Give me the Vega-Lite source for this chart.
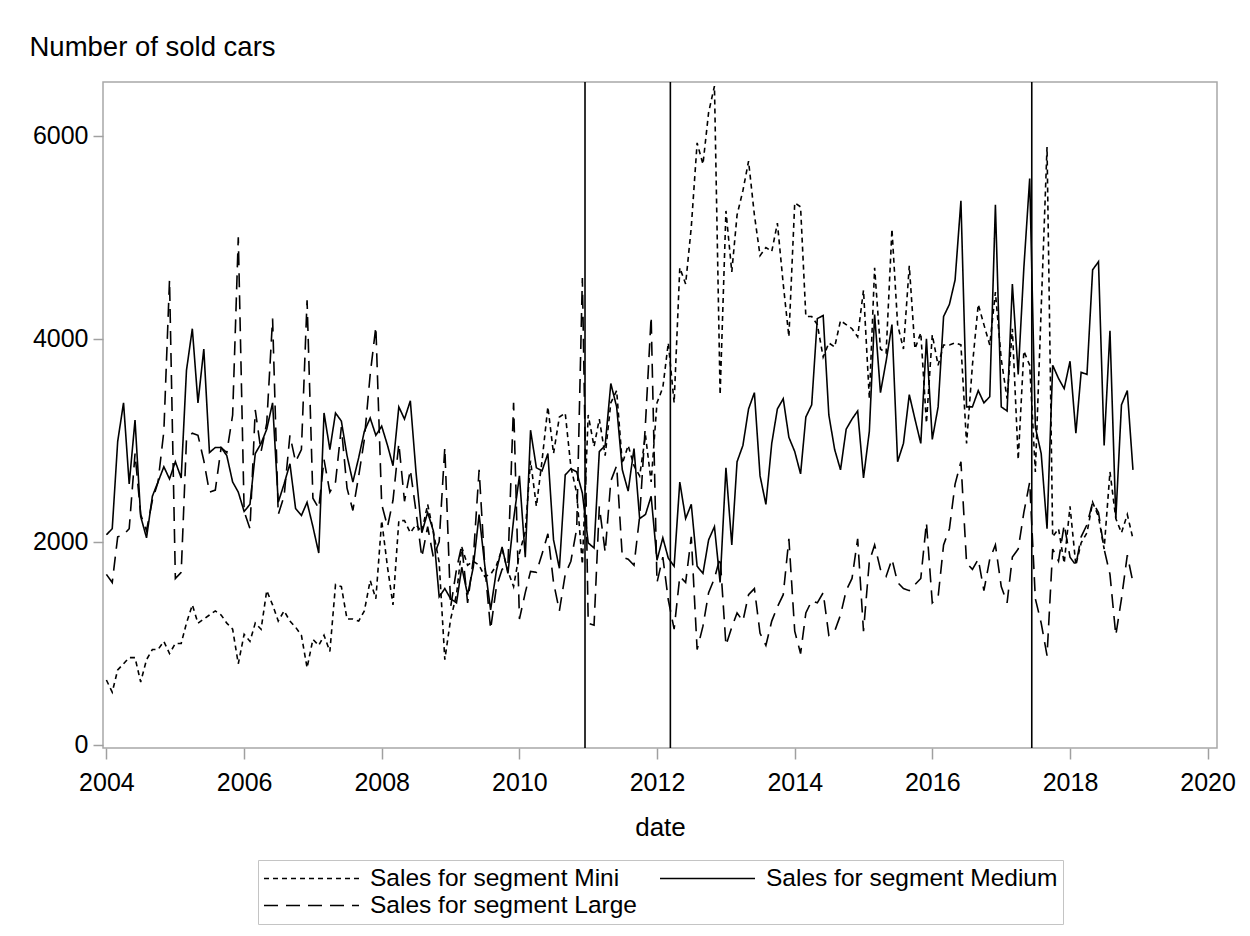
{
  "$schema": "https://vega.github.io/schema/vega-lite/v6.json",
  "width": 1114,
  "height": 666,
  "autosize": {"type": "none"},
  "padding": {"left": 103, "top": 82, "right": 33, "bottom": 188},
  "background": "white",
  "config": {
    "font": "Liberation Sans",
    "view": {"stroke": "#a8a8a8", "strokeWidth": 1.5},
    "axis": {"grid": false, "domain": false, "tickColor": "#a0a0a0", "tickWidth": 1.5, "labelColor": "black", "titleColor": "black", "titleFontWeight": "normal"}
  },
  "layer": [
    {
      "data": {"values": [
        {"date":"2004-01-01","Mini":640,"Medium":2070,"Large":1680},
        {"date":"2004-02-01","Mini":520,"Medium":2130,"Large":1600},
        {"date":"2004-03-01","Mini":740,"Medium":2990,"Large":2050},
        {"date":"2004-04-01","Mini":800,"Medium":3370,"Large":2070},
        {"date":"2004-05-01","Mini":860,"Medium":2570,"Large":2130},
        {"date":"2004-06-01","Mini":860,"Medium":3200,"Large":2870},
        {"date":"2004-07-01","Mini":620,"Medium":2250,"Large":2270},
        {"date":"2004-08-01","Mini":840,"Medium":2040,"Large":2110},
        {"date":"2004-09-01","Mini":940,"Medium":2450,"Large":2410},
        {"date":"2004-10-01","Mini":940,"Medium":2590,"Large":2590},
        {"date":"2004-11-01","Mini":1020,"Medium":2740,"Large":3090},
        {"date":"2004-12-01","Mini":900,"Medium":2620,"Large":4580},
        {"date":"2005-01-01","Mini":1000,"Medium":2790,"Large":1640},
        {"date":"2005-02-01","Mini":1000,"Medium":2630,"Large":1700},
        {"date":"2005-03-01","Mini":1200,"Medium":3690,"Large":3010},
        {"date":"2005-04-01","Mini":1380,"Medium":4100,"Large":3070},
        {"date":"2005-05-01","Mini":1200,"Medium":3370,"Large":3050},
        {"date":"2005-06-01","Mini":1240,"Medium":3900,"Large":2800},
        {"date":"2005-07-01","Mini":1280,"Medium":2880,"Large":2490},
        {"date":"2005-08-01","Mini":1320,"Medium":2930,"Large":2510},
        {"date":"2005-09-01","Mini":1280,"Medium":2930,"Large":2930},
        {"date":"2005-10-01","Mini":1200,"Medium":2850,"Large":2880},
        {"date":"2005-11-01","Mini":1140,"Medium":2590,"Large":3250},
        {"date":"2005-12-01","Mini":800,"Medium":2490,"Large":5000},
        {"date":"2006-01-01","Mini":1090,"Medium":2300,"Large":2300},
        {"date":"2006-02-01","Mini":1020,"Medium":2370,"Large":2130},
        {"date":"2006-03-01","Mini":1200,"Medium":2870,"Large":3300},
        {"date":"2006-04-01","Mini":1140,"Medium":2970,"Large":2890},
        {"date":"2006-05-01","Mini":1520,"Medium":3110,"Large":3170},
        {"date":"2006-06-01","Mini":1380,"Medium":3370,"Large":4200},
        {"date":"2006-07-01","Mini":1220,"Medium":2390,"Large":2270},
        {"date":"2006-08-01","Mini":1320,"Medium":2570,"Large":2450},
        {"date":"2006-09-01","Mini":1220,"Medium":2770,"Large":3050},
        {"date":"2006-10-01","Mini":1160,"Medium":2330,"Large":2790},
        {"date":"2006-11-01","Mini":1080,"Medium":2260,"Large":2910},
        {"date":"2006-12-01","Mini":760,"Medium":2390,"Large":4380},
        {"date":"2007-01-01","Mini":1040,"Medium":2150,"Large":2430},
        {"date":"2007-02-01","Mini":980,"Medium":1890,"Large":2330},
        {"date":"2007-03-01","Mini":1080,"Medium":3270,"Large":2810},
        {"date":"2007-04-01","Mini":920,"Medium":2910,"Large":2490},
        {"date":"2007-05-01","Mini":1580,"Medium":3270,"Large":2590},
        {"date":"2007-06-01","Mini":1560,"Medium":3190,"Large":3130},
        {"date":"2007-07-01","Mini":1240,"Medium":2850,"Large":2530},
        {"date":"2007-08-01","Mini":1240,"Medium":2590,"Large":2310},
        {"date":"2007-09-01","Mini":1220,"Medium":2830,"Large":2650},
        {"date":"2007-10-01","Mini":1320,"Medium":3090,"Large":3010},
        {"date":"2007-11-01","Mini":1620,"Medium":3220,"Large":3650},
        {"date":"2007-12-01","Mini":1440,"Medium":3050,"Large":4120},
        {"date":"2008-01-01","Mini":2210,"Medium":3140,"Large":2370},
        {"date":"2008-02-01","Mini":1750,"Medium":2950,"Large":2150},
        {"date":"2008-03-01","Mini":1380,"Medium":2750,"Large":2410},
        {"date":"2008-04-01","Mini":2210,"Medium":3330,"Large":2970},
        {"date":"2008-05-01","Mini":2210,"Medium":3210,"Large":2400},
        {"date":"2008-06-01","Mini":2090,"Medium":3390,"Large":2710},
        {"date":"2008-07-01","Mini":2170,"Medium":2690,"Large":2300},
        {"date":"2008-08-01","Mini":2100,"Medium":2090,"Large":1850},
        {"date":"2008-09-01","Mini":2370,"Medium":2290,"Large":2150},
        {"date":"2008-10-01","Mini":2100,"Medium":2110,"Large":1850},
        {"date":"2008-11-01","Mini":1800,"Medium":1460,"Large":2000},
        {"date":"2008-12-01","Mini":840,"Medium":1540,"Large":2930},
        {"date":"2009-01-01","Mini":1240,"Medium":1440,"Large":1360},
        {"date":"2009-02-01","Mini":1480,"Medium":1400,"Large":1730},
        {"date":"2009-03-01","Mini":1950,"Medium":1750,"Large":1970},
        {"date":"2009-04-01","Mini":1770,"Medium":1480,"Large":1400},
        {"date":"2009-05-01","Mini":1810,"Medium":1750,"Large":1830},
        {"date":"2009-06-01","Mini":1770,"Medium":2270,"Large":2710},
        {"date":"2009-07-01","Mini":1660,"Medium":1770,"Large":1770},
        {"date":"2009-08-01","Mini":1680,"Medium":1330,"Large":1140},
        {"date":"2009-09-01","Mini":1770,"Medium":1720,"Large":1560},
        {"date":"2009-10-01","Mini":1930,"Medium":1950,"Large":1730},
        {"date":"2009-11-01","Mini":1710,"Medium":1690,"Large":1770},
        {"date":"2009-12-01","Mini":1560,"Medium":2220,"Large":3370},
        {"date":"2010-01-01","Mini":1890,"Medium":2650,"Large":1240},
        {"date":"2010-02-01","Mini":2100,"Medium":1850,"Large":1500},
        {"date":"2010-03-01","Mini":2800,"Medium":3100,"Large":1710},
        {"date":"2010-04-01","Mini":2350,"Medium":2730,"Large":1700},
        {"date":"2010-05-01","Mini":2800,"Medium":2700,"Large":1880},
        {"date":"2010-06-01","Mini":3330,"Medium":2870,"Large":2080},
        {"date":"2010-07-01","Mini":2870,"Medium":2020,"Large":1600},
        {"date":"2010-08-01","Mini":3230,"Medium":1740,"Large":1320},
        {"date":"2010-09-01","Mini":3270,"Medium":2660,"Large":1680},
        {"date":"2010-10-01","Mini":2740,"Medium":2720,"Large":1810},
        {"date":"2010-11-01","Mini":2480,"Medium":2690,"Large":2130},
        {"date":"2010-12-01","Mini":1780,"Medium":2480,"Large":4600},
        {"date":"2011-01-01","Mini":3250,"Medium":1990,"Large":1200},
        {"date":"2011-02-01","Mini":2940,"Medium":1940,"Large":1180},
        {"date":"2011-03-01","Mini":3210,"Medium":2890,"Large":2350},
        {"date":"2011-04-01","Mini":2850,"Medium":2950,"Large":1900},
        {"date":"2011-05-01","Mini":3370,"Medium":3560,"Large":2600},
        {"date":"2011-06-01","Mini":3490,"Medium":3330,"Large":2750},
        {"date":"2011-07-01","Mini":2770,"Medium":2710,"Large":1850},
        {"date":"2011-08-01","Mini":2950,"Medium":2500,"Large":1830},
        {"date":"2011-09-01","Mini":2750,"Medium":2920,"Large":1770},
        {"date":"2011-10-01","Mini":2650,"Medium":2230,"Large":2250},
        {"date":"2011-11-01","Mini":3050,"Medium":2270,"Large":3170},
        {"date":"2011-12-01","Mini":2590,"Medium":2450,"Large":4220},
        {"date":"2012-01-01","Mini":3370,"Medium":1820,"Large":1600},
        {"date":"2012-02-01","Mini":3520,"Medium":2040,"Large":1850},
        {"date":"2012-03-01","Mini":3960,"Medium":1840,"Large":1430},
        {"date":"2012-04-01","Mini":3370,"Medium":1760,"Large":1140},
        {"date":"2012-05-01","Mini":4700,"Medium":2590,"Large":1660},
        {"date":"2012-06-01","Mini":4540,"Medium":2230,"Large":1600},
        {"date":"2012-07-01","Mini":5100,"Medium":2370,"Large":2050},
        {"date":"2012-08-01","Mini":5930,"Medium":1760,"Large":940},
        {"date":"2012-09-01","Mini":5720,"Medium":1690,"Large":1170},
        {"date":"2012-10-01","Mini":6230,"Medium":2020,"Large":1500},
        {"date":"2012-11-01","Mini":6490,"Medium":2150,"Large":1640},
        {"date":"2012-12-01","Mini":3450,"Medium":1600,"Large":1850},
        {"date":"2013-01-01","Mini":5260,"Medium":2730,"Large":980},
        {"date":"2013-02-01","Mini":4660,"Medium":1970,"Large":1160},
        {"date":"2013-03-01","Mini":5220,"Medium":2790,"Large":1300},
        {"date":"2013-04-01","Mini":5460,"Medium":2950,"Large":1220},
        {"date":"2013-05-01","Mini":5750,"Medium":3310,"Large":1480},
        {"date":"2013-06-01","Mini":5220,"Medium":3470,"Large":1540},
        {"date":"2013-07-01","Mini":4820,"Medium":2650,"Large":1100},
        {"date":"2013-08-01","Mini":4900,"Medium":2370,"Large":980},
        {"date":"2013-09-01","Mini":4860,"Medium":2970,"Large":1220},
        {"date":"2013-10-01","Mini":5140,"Medium":3310,"Large":1360},
        {"date":"2013-11-01","Mini":4540,"Medium":3410,"Large":1480},
        {"date":"2013-12-01","Mini":4020,"Medium":3030,"Large":2030},
        {"date":"2014-01-01","Mini":5340,"Medium":2890,"Large":1120},
        {"date":"2014-02-01","Mini":5300,"Medium":2670,"Large":900},
        {"date":"2014-03-01","Mini":4220,"Medium":3230,"Large":1300},
        {"date":"2014-04-01","Mini":4220,"Medium":3350,"Large":1420},
        {"date":"2014-05-01","Mini":4140,"Medium":4200,"Large":1400},
        {"date":"2014-06-01","Mini":3820,"Medium":4230,"Large":1500},
        {"date":"2014-07-01","Mini":3960,"Medium":3250,"Large":1080},
        {"date":"2014-08-01","Mini":3920,"Medium":2910,"Large":1120},
        {"date":"2014-09-01","Mini":4180,"Medium":2710,"Large":1280},
        {"date":"2014-10-01","Mini":4140,"Medium":3110,"Large":1520},
        {"date":"2014-11-01","Mini":4100,"Medium":3210,"Large":1640},
        {"date":"2014-12-01","Mini":4020,"Medium":3290,"Large":2030},
        {"date":"2015-01-01","Mini":4480,"Medium":2630,"Large":1120},
        {"date":"2015-02-01","Mini":3410,"Medium":3090,"Large":1810},
        {"date":"2015-03-01","Mini":4700,"Medium":4240,"Large":1970},
        {"date":"2015-04-01","Mini":3900,"Medium":3470,"Large":1730},
        {"date":"2015-05-01","Mini":3860,"Medium":3780,"Large":1660},
        {"date":"2015-06-01","Mini":5080,"Medium":4140,"Large":1830},
        {"date":"2015-07-01","Mini":4140,"Medium":2790,"Large":1600},
        {"date":"2015-08-01","Mini":3900,"Medium":2970,"Large":1540},
        {"date":"2015-09-01","Mini":4720,"Medium":3450,"Large":1520},
        {"date":"2015-10-01","Mini":3900,"Medium":3210,"Large":1580},
        {"date":"2015-11-01","Mini":4060,"Medium":2970,"Large":1640},
        {"date":"2015-12-01","Mini":3170,"Medium":4000,"Large":2190},
        {"date":"2016-01-01","Mini":4040,"Medium":3010,"Large":1400},
        {"date":"2016-02-01","Mini":3740,"Medium":3330,"Large":1460},
        {"date":"2016-03-01","Mini":3940,"Medium":4220,"Large":1970},
        {"date":"2016-04-01","Mini":3940,"Medium":4340,"Large":2130},
        {"date":"2016-05-01","Mini":3960,"Medium":4580,"Large":2570},
        {"date":"2016-06-01","Mini":3940,"Medium":5360,"Large":2790},
        {"date":"2016-07-01","Mini":2970,"Medium":3330,"Large":1790},
        {"date":"2016-08-01","Mini":3740,"Medium":3330,"Large":1730},
        {"date":"2016-09-01","Mini":4340,"Medium":3490,"Large":1830},
        {"date":"2016-10-01","Mini":4140,"Medium":3370,"Large":1520},
        {"date":"2016-11-01","Mini":3940,"Medium":3430,"Large":1830},
        {"date":"2016-12-01","Mini":4460,"Medium":5320,"Large":1970},
        {"date":"2017-01-01","Mini":3800,"Medium":3330,"Large":1560},
        {"date":"2017-02-01","Mini":3410,"Medium":3290,"Large":1400},
        {"date":"2017-03-01","Mini":4100,"Medium":4540,"Large":1850},
        {"date":"2017-04-01","Mini":2810,"Medium":3650,"Large":1930},
        {"date":"2017-05-01","Mini":3880,"Medium":4700,"Large":2290},
        {"date":"2017-06-01","Mini":3740,"Medium":5580,"Large":2590},
        {"date":"2017-07-01","Mini":2690,"Medium":3130,"Large":1440},
        {"date":"2017-08-01","Mini":4300,"Medium":2870,"Large":1200},
        {"date":"2017-09-01","Mini":5890,"Medium":2130,"Large":880},
        {"date":"2017-10-01","Mini":2050,"Medium":3740,"Large":1930},
        {"date":"2017-11-01","Mini":2130,"Medium":3610,"Large":1810},
        {"date":"2017-12-01","Mini":1790,"Medium":3510,"Large":2170},
        {"date":"2018-01-01","Mini":2350,"Medium":3780,"Large":1850},
        {"date":"2018-02-01","Mini":1770,"Medium":3070,"Large":1770},
        {"date":"2018-03-01","Mini":1990,"Medium":3670,"Large":2050},
        {"date":"2018-04-01","Mini":2090,"Medium":3650,"Large":2170},
        {"date":"2018-05-01","Mini":2390,"Medium":4680,"Large":2390},
        {"date":"2018-06-01","Mini":2250,"Medium":4760,"Large":2290},
        {"date":"2018-07-01","Mini":1930,"Medium":2950,"Large":1930},
        {"date":"2018-08-01","Mini":2690,"Medium":4080,"Large":1680},
        {"date":"2018-09-01","Mini":2230,"Medium":2230,"Large":1080},
        {"date":"2018-10-01","Mini":2090,"Medium":3350,"Large":1440},
        {"date":"2018-11-01","Mini":2270,"Medium":3490,"Large":1870},
        {"date":"2018-12-01","Mini":2030,"Medium":2710,"Large":1600}
      ]},
      "transform": [{"fold": ["Mini", "Medium", "Large"], "as": ["segment", "sales"]}],
      "mark": {"type": "line", "color": "black", "strokeWidth": 1.6},
      "encoding": {
        "x": {
          "field": "date", "type": "temporal",
          "scale": {"type": "utc", "domain": [{"year": 2003, "month": 12, "date": 14, "utc": true}, {"year": 2020, "month": 2, "date": 20, "utc": true}]},
          "axis": {
            "title": "date", "titleFontSize": 26, "titleY": 87, "titleBaseline": "alphabetic",
            "labelFontSize": 25, "tickSize": 11, "labelPadding": 11, "format": "%Y", "formatType": "utc",
            "labelFlush": false, "labelOverlap": false,
            "values": [
              {"year": 2004, "utc": true}, {"year": 2006, "utc": true}, {"year": 2008, "utc": true},
              {"year": 2010, "utc": true}, {"year": 2012, "utc": true}, {"year": 2014, "utc": true},
              {"year": 2016, "utc": true}, {"year": 2018, "utc": true}, {"year": 2020, "utc": true}
            ]
          }
        },
        "y": {
          "field": "sales", "type": "quantitative",
          "scale": {"domain": [-30, 6530], "nice": false, "zero": false},
          "axis": {
            "title": "Number of sold cars", "titleAngle": 0, "titleAlign": "left", "titleBaseline": "alphabetic",
            "titleX": -74, "titleY": -27, "titleFontSize": 27.5,
            "labelFontSize": 25, "tickSize": 10, "labelPadding": 5, "values": [0, 2000, 4000, 6000], "format": "d"
          }
        },
        "strokeDash": {
          "field": "segment", "type": "nominal",
          "scale": {"domain": ["Mini", "Large", "Medium"], "range": [[5, 4], [14, 8], [1, 0]]},
          "legend": {
            "orient": "none", "legendX": 155, "legendY": 778, "columns": 2, "title": null,
            "symbolType": "stroke", "symbolSize": 9025, "symbolStrokeWidth": 1.6, "symbolStrokeColor": "black",
            "labelFontSize": 24.5, "labelColor": "black", "labelOffset": 10, "labelLimit": 500,
            "labelExpr": "'Sales for segment ' + datum.label",
            "clipHeight": 27, "rowPadding": 0, "columnPadding": 22, "padding": 5,
            "strokeColor": "#c4c4c4"
          }
        }
      }
    },
    {
      "data": {"values": [{"date": "2010-12-15"}, {"date": "2012-03-12"}, {"date": "2017-06-12"}]},
      "mark": {"type": "rule", "color": "black", "strokeWidth": 1.6},
      "encoding": {"x": {"field": "date", "type": "temporal"}}
    }
  ]
}
